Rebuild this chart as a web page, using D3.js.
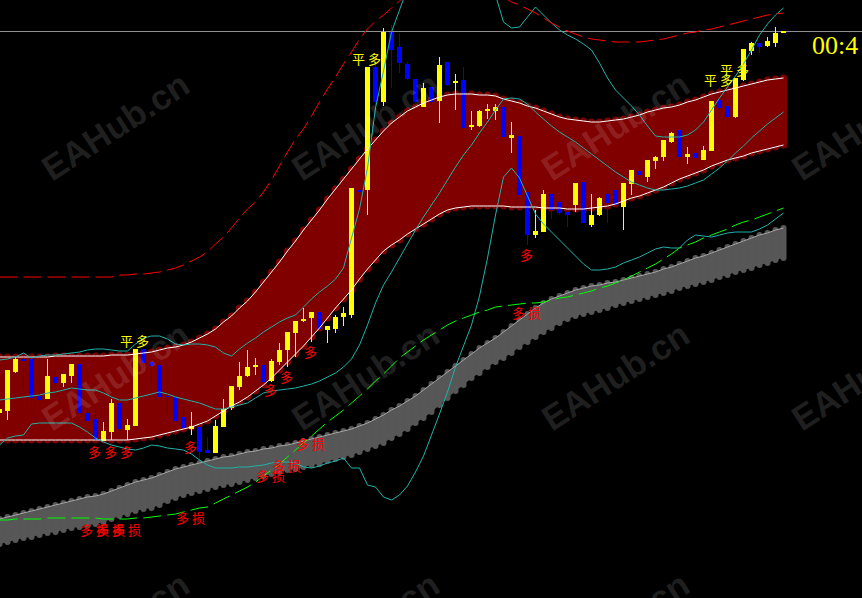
<!DOCTYPE html>
<html>
<head>
<meta charset="utf-8">
<script src="https://d3js.org/d3.v7.min.js"></script>
<style>
  body { margin: 0; background: #000; overflow: hidden; }
  svg { display: block; }
  .sig { font-family: "Noto Sans CJK SC", sans-serif; font-size: 13px; letter-spacing: 3px; }
</style>
</head>
<body>
<div id="chart"></div>
<script>
// candles (price units), one per bar
var open  = [187,189,228,241,241,204,201,223,217,224,236,187,181,159,168,197,170,174,251,238,235,204,203,183,171,173,150,147,173,192,213,224,233,235,219,238,250,267,279,282,288,270,271,283,285,410,410,533,498,568,553,536,521,493,513,499,538,517,520,473,474,489,489,493,462,464,408,365,368,406,398,388,395,418,375,385,406,410,393,416,429,423,439,443,458,470,443,447,440,449,500,494,483,520,549,557,554,557,567];
var high  = [191,230,243,241,241,223,241,234,226,236,236,193,193,178,201,203,181,251,251,238,235,209,203,190,188,180,163,180,201,214,238,250,242,235,241,257,268,279,292,288,288,274,285,293,412,413,533,537,572,575,567,538,521,517,513,543,538,526,533,489,490,496,496,493,478,467,412,390,410,406,407,393,417,418,406,403,414,420,417,430,433,440,444,460,468,470,453,462,454,499,513,497,522,551,558,557,563,573,569];
var low   = [187,180,227,213,198,198,201,213,213,217,187,179,159,159,160,170,160,174,232,218,202,187,179,172,165,140,147,147,173,190,210,223,225,218,218,235,233,243,278,258,269,257,267,274,282,382,385,494,494,512,527,520,485,493,490,477,514,490,472,470,473,481,480,462,447,405,355,362,368,381,385,373,388,377,373,384,377,395,370,405,411,418,431,439,457,435,436,440,440,449,490,463,482,519,545,547,553,553,567];
var close = [191,230,241,239,202,200,224,217,226,236,187,179,160,169,197,171,175,251,237,234,203,203,179,172,174,148,147,174,191,214,224,233,235,218,239,250,268,279,281,288,271,274,283,287,412,408,533,498,568,550,537,521,498,512,498,535,515,519,472,475,489,491,493,463,465,405,365,369,406,390,387,385,417,377,385,402,397,395,417,430,425,440,443,460,467,443,446,442,450,499,492,483,522,551,557,553,559,567,569];

// red channel
var bandHi = [243,243,243,243,243,243,243,244,244,244,244,244,244,244,245,245,245,246,247,248,250,252,253,255,258,262,266,271,278,284,292,299,308,318,328,338,349,359,370,380,390,401,411,421,431,441,451,460,469,477,483,489,493,497,500,503,505,506,506,506,505,505,504,501,499,497,494,492,489,486,483,481,480,479,478,478,479,480,481,483,485,488,490,492,493,495,498,500,503,506,508,510,512,514,516,518,520,521,522];
var bandLo = [160,160,160,160,160,160,160,160,160,160,160,160,160,160,160,160,160,161,162,163,165,167,169,171,173,176,179,184,189,194,198,203,209,215,222,230,238,246,254,263,272,282,292,301,310,321,331,340,349,355,360,366,371,376,381,386,390,392,393,394,394,394,394,394,393,393,393,393,392,392,392,391,391,391,392,393,394,396,399,402,404,407,410,413,417,421,424,427,430,434,437,440,442,444,447,449,451,453,455];

// envelope lines
var cyanUp  = [240,241,243,247,242,244,245,245,246,247,248,250,251,251,250,249,249,256,262,264,264,261,256,255,256,256,255,253,247,244,251,257,262,268,273,278,282,285,293,301,308,314,321,332,362,391,432,492,529,568,590,612,630,645,655,662,666,666,660,650,638,625,605,578,572,573,583,593,585,577,570,565,561,556,550,537,522,510,502,494,485,474,464,463,463,463,465,470,478,490,502,513,524,536,550,565,576,585,592];
var cyanMid = [200,201,202,203,204,205,207,208,210,212,211,210,210,207,203,200,200,202,204,206,208,206,203,201,199,197,194,191,191,193,195,197,202,207,209,210,211,212,214,216,219,223,227,233,241,255,275,297,315,328,342,356,370,383,395,407,420,433,445,455,467,478,490,501,502,501,496,488,481,474,468,463,458,452,446,440,434,428,423,418,415,412,410,410,411,412,414,417,420,426,432,439,447,454,462,469,476,482,488];
var cyanLo  = [155,162,164,165,176,177,177,177,177,177,173,168,162,158,155,153,151,150,152,155,154,152,151,150,146,140,135,132,132,132,133,133,134,135,137,138,138,137,133,132,134,137,139,142,132,132,115,113,103,100,105,114,128,144,165,186,208,233,254,275,304,342,385,423,432,422,404,386,376,368,360,352,344,336,330,330,331,333,337,340,343,347,351,353,352,352,360,365,364,363,365,367,368,368,368,371,375,381,387];
var redDash   = [323,323,323,323,323,323,323,323,323,323,323,323,323,323,323,325,325,326,326,327,328,330,332,335,339,343,348,356,363,372,382,391,398,408,420,434,448,461,471,484,498,511,523,536,548,561,571,579,585,592,599,606,612,617,621,624,626,627,626,624,620,614,608,603,598,595,591,587,582,577,573,569,566,563,561,560,559,558,558,558,558,559,560,561,563,565,567,568,570,571,573,575,577,579,581,583,585,586,587];
var greenDash = [80,80,81,81,81,81,82,82,82,82,82,82,82,81,81,81,81,82,82,83,84,85,86,88,90,92,93,97,101,105,109,113,118,124,130,136,143,150,157,164,171,178,184,190,197,204,211,219,226,234,242,248,254,260,265,270,275,279,282,285,288,290,293,294,295,296,297,297,298,300,302,303,305,307,309,312,314,317,320,324,328,332,336,341,346,352,355,358,362,365,368,371,375,378,380,383,386,389,392];

// grey trail band
var greyHi = [81,83,85,87,89,91,93,95,97,99,101,103,104,106,109,112,115,118,120,122,125,128,131,133,135,137,139,141,143,144,146,148,149,151,152,154,155,157,159,161,163,165,167,169,171,174,177,181,185,190,194,199,204,210,216,222,228,234,240,246,252,257,262,268,274,280,286,292,297,301,304,307,310,312,314,315,317,318,320,322,324,326,328,331,333,336,339,342,344,347,350,353,356,359,362,365,367,370,372];
var greyLo = [56,58,60,62,63,65,67,68,70,72,73,75,76,78,81,84,86,89,91,92,95,99,102,105,107,109,111,113,115,116,118,120,122,124,126,128,130,131,133,135,136,139,141,143,145,148,151,154,157,162,166,171,177,182,188,195,202,209,215,222,227,233,238,242,247,253,258,263,268,272,277,281,284,286,288,290,292,295,297,299,301,303,305,307,309,312,314,316,318,320,323,325,328,330,332,335,337,340,342];

// signal labels
var closeSigBars = [15,44,88,90], closeSigPrices = [254,536,515,525];
var longSigBars = [11,13,15,23,33,35,38,65], longSigPrices = [143,143,143,148,205,218,243,340];
var stopSigBars = [10,12,14,22,32,34,37,64], stopSigPrices = [65,65,65,77,119,129,151,282];
var clockText = "00:4";
var watermark = "EAHub.cn";

var width = 862, height = 598;
var idx = d3.range(open.length);

var svg = d3.select("#chart").append("svg")
  .attr("width", width)
  .attr("height", height);

svg.append("rect").attr("width", width).attr("height", height).attr("fill", "#000");

var x = d3.scaleLinear().domain([0, open.length - 1]).range([-0.5, 783.5]);
var y = d3.scaleLinear().domain([0, 600]).range([600, 0]);

function band(hi, lo, color, w) {
  var g = svg.append("g");
  g.append("path").datum(idx)
    .attr("d", d3.area().x(function(i){ return x(i); })
      .y0(function(i){ return y(lo[i]); })
      .y1(function(i){ return y(hi[i]); }))
    .attr("fill", color);
  g.selectAll("line").data(idx).join("line")
    .attr("x1", function(i){ return x(i); })
    .attr("x2", function(i){ return x(i); })
    .attr("y1", function(i){ return y(hi[i]); })
    .attr("y2", function(i){ return y(lo[i]); })
    .attr("stroke", color)
    .attr("stroke-width", w)
    .attr("stroke-linecap", "round");
}

function series(vals, color, dash) {
  var p = svg.append("path").datum(idx)
    .attr("d", d3.line().x(function(i){ return x(i); }).y(function(i){ return y(vals[i]); }))
    .attr("fill", "none")
    .attr("stroke", color)
    .attr("stroke-width", 1);
  if (dash) p.attr("stroke-dasharray", dash);
  return p;
}

band(bandHi, bandLo, "#800000", 7);
band(greyHi, greyLo, "#575757", 6);
series(greyHi, "#a6a6a6");

// current price line
var last = close[close.length - 1];
svg.append("line")
  .attr("x1", 0).attr("x2", width)
  .attr("y1", y(last) + 0.5).attr("y2", y(last) + 0.5)
  .attr("stroke", "#8e8e8e").attr("stroke-width", 1);

// candles
var candle = svg.append("g").selectAll("g").data(idx).join("g");
function col(i) { return close[i] >= open[i] ? "#ffff00" : "#0000ff"; }
candle.append("line")
  .attr("x1", function(i){ return x(i); })
  .attr("x2", function(i){ return x(i); })
  .attr("y1", function(i){ return y(high[i]); })
  .attr("y2", function(i){ return y(low[i]); })
  .attr("stroke", col);
candle.append("rect")
  .attr("x", function(i){ return x(i) - 2.5; })
  .attr("width", 5)
  .attr("y", function(i){ return y(Math.max(open[i], close[i])); })
  .attr("height", function(i){ return Math.max(1, Math.abs(y(open[i]) - y(close[i]))); })
  .attr("fill", col);

series(bandHi, "#ffffff");
series(bandLo, "#ffffff");
series(cyanUp, "#20b2aa");
series(cyanMid, "#20b2aa");
series(cyanLo, "#20b2aa");
series(redDash, "#ff0000", "18,6");
series(greenDash, "#00ff00", "18,6");

// signal texts
function labels(bars, prices, text, color) {
  svg.append("g").selectAll("text").data(bars).join("text")
    .attr("class", "sig")
    .attr("x", function(b){ return x(b) + 0.5; })
    .attr("y", function(b, k){ return y(prices[k]); })
    .attr("fill", color)
    .text(text);
}
labels(closeSigBars, closeSigPrices, "平多", "#ffff00");
labels(longSigBars, longSigPrices, "多", "#ff0000");
labels(stopSigBars, stopSigPrices, "多损", "#ff0000");

svg.append("text")
  .attr("x", 812).attr("y", 54)
  .attr("fill", "#ffff00")
  .style("font-family", "'Liberation Serif', serif")
  .style("font-size", "26px")
  .text(clockText);

// watermark tiles
var wm = svg.append("g").attr("pointer-events", "none");
for (var r = 0; r < 3; r++) {
  for (var c = 0; c < 4; c++) {
    var tx = 52 + c * 250, ty = 182 + r * 250;
    wm.append("text")
      .attr("transform", "translate(" + tx + "," + ty + ") rotate(-33)")
      .attr("fill", "#ffffff")
      .attr("fill-opacity", 0.13)
      .style("font-family", "'Liberation Sans', Arial, sans-serif")
      .style("font-weight", "bold")
      .style("font-size", "35px")
      .text(watermark);
  }
}
</script>
</body>
</html>
